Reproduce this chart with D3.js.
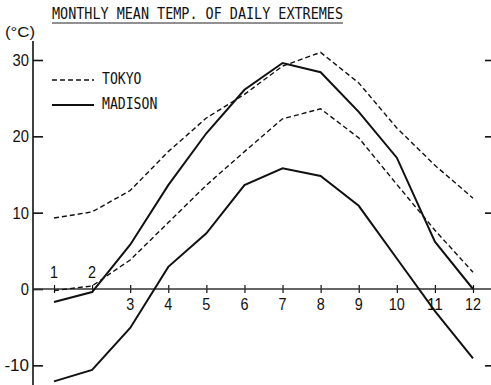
<!DOCTYPE html>
<html>
<head>
<meta charset="utf-8">
<script src="https://cdn.jsdelivr.net/npm/d3@7"></script>
<style>
  body { margin: 0; background: #fff; }
  text { fill: #111; }
</style>
</head>
<body>
<svg id="chart" width="491" height="385"></svg>
<script>
const months = [1, 2, 3, 4, 5, 6, 7, 8, 9, 10, 11, 12];
const tokyoMax = [9.3, 10.1, 12.9, 18.0, 22.4, 25.5, 29.2, 31.0, 27.0, 21.1, 16.2, 11.9];
const tokyoMin = [-0.2, 0.4, 3.8, 8.7, 13.6, 18.0, 22.3, 23.6, 19.8, 13.7, 7.7, 2.2];
const madisonMax = [-1.7, -0.4, 5.8, 13.6, 20.4, 26.1, 29.6, 28.4, 23.2, 17.2, 6.2, 0.0];
const madisonMin = [-12.1, -10.6, -5.1, 2.9, 7.3, 13.6, 15.8, 14.8, 10.9, 4.0, -2.9, -9.1];
const yTicks = [-10, 0, 10, 20, 30];
const labelsAbove = [1, 2];

const svg = d3.select('#chart');
const x = d3.scaleLinear().domain([1, 12]).range([54, 473]);
const y = d3.scaleLinear().domain([0, 30]).range([289, 60]);
const mono = 'DejaVu Sans Mono';
const sans = 'Liberation Sans';

// title
svg.append('text')
  .attr('x', 52).attr('y', 19)
  .attr('font-family', mono).attr('font-size', 15)
  .attr('textLength', 291).attr('lengthAdjust', 'spacingAndGlyphs')
  .text('MONTHLY MEAN TEMP. OF DAILY EXTREMES');
svg.append('line')
  .attr('x1', 52).attr('x2', 343).attr('y1', 23).attr('y2', 23)
  .attr('stroke', '#222').attr('stroke-width', 1);

svg.append('text')
  .attr('x', 5).attr('y', 37)
  .attr('font-family', sans).attr('font-size', 15.5)
  .attr('textLength', 30).attr('lengthAdjust', 'spacingAndGlyphs')
  .text('(°C)');

// y axis
const yAxis = svg.append('g').attr('transform', 'translate(33,0)')
  .call(d3.axisRight(y).tickValues(yTicks).tickSize(10).tickFormat(''));
yAxis.select('.domain').remove();
yAxis.selectAll('line').attr('stroke', '#111').attr('stroke-width', 1.6);
svg.append('line')
  .attr('x1', 33).attr('x2', 33).attr('y1', 41).attr('y2', 385)
  .attr('stroke', '#111').attr('stroke-width', 1.6);
svg.selectAll('.ylab').data(yTicks).enter().append('text')
  .attr('class', 'ylab')
  .attr('x', 29).attr('y', d => y(d) + 6)
  .attr('text-anchor', 'end')
  .attr('font-family', sans).attr('font-size', 16.5)
  .attr('textLength', d => String(d).length * 8.2).attr('lengthAdjust', 'spacingAndGlyphs')
  .text(d => d);

// right side ticks
const rAxis = svg.append('g').attr('transform', 'translate(491,0)')
  .call(d3.axisLeft(y).tickValues(yTicks.filter(d => d !== 0)).tickSize(6).tickFormat(''));
rAxis.select('.domain').remove();
rAxis.selectAll('line').attr('stroke', '#111').attr('stroke-width', 1.6);

// x axis at 0
const xAxis = svg.append('g').attr('transform', `translate(0,${y(0)})`)
  .call(d3.axisBottom(x).tickValues(months).tickSizeInner(4).tickSizeOuter(0).tickFormat(''));
xAxis.select('.domain').remove();
xAxis.selectAll('.tick line').attr('y1', -4).attr('stroke', '#111').attr('stroke-width', 1.2);
svg.append('line')
  .attr('x1', 33).attr('x2', 491).attr('y1', y(0)).attr('y2', y(0))
  .attr('stroke', '#333').attr('stroke-width', 1.3);
svg.selectAll('.xlab').data(months).enter().append('text')
  .attr('class', 'xlab')
  .attr('x', d => x(d))
  .attr('y', d => labelsAbove.includes(d) ? 278 : 310)
  .attr('text-anchor', 'middle')
  .attr('font-family', sans).attr('font-size', 16)
  .attr('textLength', d => String(d).length * 8).attr('lengthAdjust', 'spacingAndGlyphs')
  .text(d => d);

// series
const line = d3.line().x((d, i) => x(months[i])).y(d => y(d));
const series = [
  { values: tokyoMax, dash: '5,3', width: 1.4 },
  { values: tokyoMin, dash: '5,3', width: 1.4 },
  { values: madisonMax, dash: null, width: 2 },
  { values: madisonMin, dash: null, width: 2 }
];
series.forEach(s => {
  svg.append('path')
    .datum(s.values)
    .attr('d', line)
    .attr('fill', 'none')
    .attr('stroke', '#111')
    .attr('stroke-width', s.width)
    .attr('stroke-dasharray', s.dash);
});

// legend
const legend = [
  { name: 'TOKYO', dash: '5,3', width: 1.4, y: 80 },
  { name: 'MADISON', dash: null, width: 2, y: 105 }
];
legend.forEach(l => {
  svg.append('line')
    .attr('x1', 52).attr('x2', 94).attr('y1', l.y).attr('y2', l.y)
    .attr('stroke', '#111').attr('stroke-width', l.width)
    .attr('stroke-dasharray', l.dash);
  svg.append('text')
    .attr('x', 102).attr('y', l.y + 4)
    .attr('font-family', mono).attr('font-size', 15)
    .attr('textLength', l.name.length * 7.9).attr('lengthAdjust', 'spacingAndGlyphs')
    .text(l.name);
});
</script>
</body>
</html>
